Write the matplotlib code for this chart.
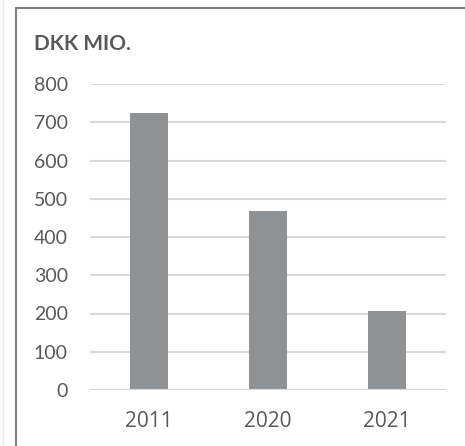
import matplotlib
matplotlib.use("Agg")
import matplotlib.pyplot as plt
from matplotlib.lines import Line2D

years = ["2011", "2020", "2021"]
values = [723, 467, 207]
yticks = [0, 100, 200, 300, 400, 500, 600, 700, 800]
title = "DKK MIO."

W, H = 465, 446
fig = plt.figure(figsize=(W / 100, H / 100), dpi=100)
fig.patch.set_facecolor("white")

left, right, top, bottom = 90, 446, 84, 390
ax = fig.add_axes([left / W, 1 - bottom / H, (right - left) / W, (bottom - top) / H])

x = list(range(len(years)))
ax.bar(x, values, width=0.32, color="#8f9294", zorder=2)
ax.set_xlim(-0.5, len(years) - 0.5)
ax.set_ylim(0, 800)
ax.set_yticks(yticks)
ax.set_yticklabels([str(v) for v in yticks], fontfamily="Lato", fontsize=14, color="#595959")
ax.set_xticks(x)
ax.set_xticklabels(years, fontfamily="Open Sans", fontsize=15, color="#595959")
ax.tick_params(axis="both", length=0)
ax.tick_params(axis="y", pad=16)
ax.tick_params(axis="x", pad=15)
for s in ax.spines.values():
    s.set_visible(False)
ax.yaxis.grid(True, color="#d9d9d9", linewidth=1.5, zorder=1)
ax.set_axisbelow(True)
ax.axhline(0, color="#d9d9d9", linewidth=1.5, zorder=3)

fig.text(34 / W, 1 - 43.5 / H, title, fontfamily="Lato", fontweight="bold",
         fontsize=15, color="#595959", ha="left", va="center")

# outer frame (top and left)
fig.add_artist(Line2D([16 / W, 1], [1 - 8 / H, 1 - 8 / H], color="#7f7f7f", linewidth=1.5,
                      transform=fig.transFigure))
fig.add_artist(Line2D([16 / W, 16 / W], [0, 1 - 8 / H], color="#7f7f7f", linewidth=1.5,
                      transform=fig.transFigure))
fig.add_artist(Line2D([3 / W, 3 / W], [0, 1], color="#ececec", linewidth=1,
                      transform=fig.transFigure))

fig.savefig("out.png", dpi=100, facecolor="white")
